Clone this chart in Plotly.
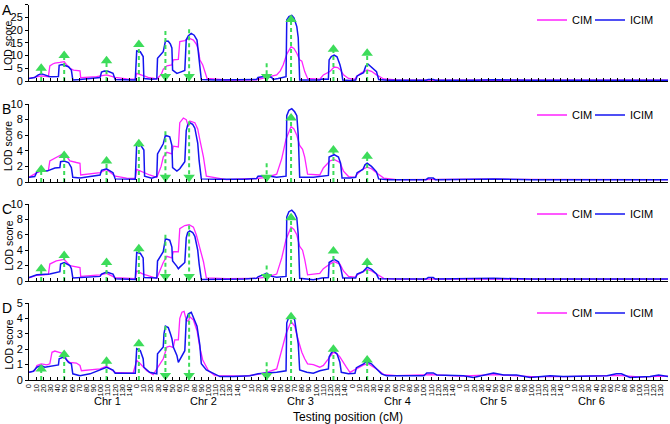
import plotly.graph_objects as go
from plotly.subplots import make_subplots

FONT = "Liberation Sans, Arial, sans-serif"
CIM_COLOR = "#ff22ff"
ICIM_COLOR = "#1414f0"
QTL_COLOR = "#3cdc5a"

# concatenated genome axis: chromosome k starts at k*150 cM
chroms = ["Chr 1", "Chr 2", "Chr 3", "Chr 4", "Chr 5", "Chr 6"]
chrom_step = 150
chrom_ticks = list(range(0, 150, 10))

# QTL marks (position on the concatenated axis, arrow direction)
qtl_pos = [17, 49, 108, 153, 190, 223, 331, 365, 424, 471]
qtl_dir = ["up", "up", "up", "up", "down", "down", "down", "up", "up", "up"]

# LOD profiles as (position, LOD) pairs
a_cim = [(0, 1.0), (8, 1.4), (17, 2.0), (27, 1.7), (29, 5.9), (33, 6.7), (36, 7.0), (43, 7.3), (49, 7.6),
         (52, 6.5), (57, 5.0), (62, 4.3), (71, 4.0), (72, 1.3), (94, 1.7), (108, 2.4), (120, 1.4), (136, 0.8),
         (148, 0.7), (150, 3.0), (159, 2.0), (166, 1.4), (178, 0.8), (184, 2.5), (187, 4.6), (192, 6.0),
         (199, 6.3), (201, 8.3), (208, 8.5), (210, 15.5), (217, 15.9), (223, 16.8), (229, 16.1), (233, 14.5),
         (236, 12.2), (238, 8.3), (242, 6.3), (245, 3.7), (248, 1.0), (275, 0.4), (317, 0.5), (331, 1.4),
         (345, 2.4), (350, 4.0), (354, 6.3), (359, 10.5), (365, 13.5), (369, 12.8), (373, 10.9), (377, 8.3),
         (380, 7.8), (384, 3.7), (388, 1.0), (405, 0.7), (410, 2.4), (419, 3.7), (425, 5.5), (430, 5.3),
         (434, 4.3), (438, 2.4), (445, 1.0), (454, 0.7), (456, 1.7), (463, 3.2), (471, 4.3), (477, 3.8),
         (484, 2.4), (494, 0.8), (512, 0.4), (600, 0.3), (700, 0.3), (890, 0.3)]
a_icim = [(0, 1.0), (8, 1.4), (13, 2.4), (17, 2.8), (21, 2.5), (25, 2.0), (29, 1.7), (41, 1.8), (42, 6.2),
          (46, 6.5), (49, 6.3), (55, 5.6), (59, 4.3), (61, 0.4), (71, 0.6), (99, 1.4), (101, 3.5), (105, 3.9),
          (110, 3.8), (117, 3.0), (120, 0.6), (148, 0.4), (150, 11.8), (155, 11.5), (159, 9.6), (160, 1.0),
          (171, 0.7), (178, 0.9), (179, 8.9), (184, 10.8), (187, 11.5), (190, 15.7), (194, 15.6), (197, 14.5),
          (199, 13.0), (200, 4.3), (206, 3.0), (210, 3.4), (217, 4.1), (219, 16.2), (222, 17.8), (226, 18.7),
          (230, 18.0), (234, 16.1), (237, 8.0), (240, 0.6), (260, 0.4), (300, 0.4), (317, 0.6), (319, 1.4),
          (331, 2.0), (338, 1.4), (340, 0.6), (347, 1.0), (358, 1.7), (359, 24.0), (362, 25.3), (366, 25.8),
          (369, 24.8), (373, 21.4), (375, 17.0), (377, 0.4), (405, 0.4), (408, 0.8), (417, 0.7), (418, 8.3),
          (421, 9.6), (425, 10.2), (429, 9.5), (433, 6.5), (435, 4.3), (437, 0.4), (447, 0.2), (455, 0.4),
          (457, 2.0), (466, 3.3), (469, 5.8), (472, 6.7), (477, 5.6), (484, 3.7), (487, 0.6), (500, 0.3),
          (553, 0.3), (556, 0.6), (563, 0.6), (566, 0.3), (620, 0.3), (647, 0.5), (700, 0.3), (820, 0.3),
          (890, 0.3)]

b_cim = [(0, 0.6), (11, 1.2), (17, 1.4), (27, 1.5), (29, 2.7), (36, 3.0), (43, 3.4), (49, 3.7), (53, 3.2),
         (57, 2.7), (66, 2.5), (71, 2.4), (72, 0.9), (99, 1.2), (108, 1.6), (120, 0.75), (136, 0.5), (148, 0.45),
         (150, 1.6), (159, 1.2), (168, 0.9), (178, 0.6), (184, 2.0), (187, 3.2), (192, 3.8), (199, 3.6),
         (201, 4.6), (208, 4.5), (210, 7.6), (215, 8.2), (219, 8.0), (222, 7.1), (224, 7.8), (231, 7.6),
         (235, 6.8), (238, 5.4), (243, 3.2), (247, 0.75), (275, 0.3), (317, 0.45), (331, 0.6), (345, 1.0),
         (352, 3.0), (358, 5.5), (365, 7.1), (369, 6.8), (373, 6.0), (377, 4.7), (381, 4.2), (384, 3.2),
         (388, 1.0), (405, 0.9), (410, 1.8), (419, 2.7), (425, 2.9), (433, 2.5), (438, 1.4), (445, 0.7),
         (454, 0.6), (457, 1.0), (464, 1.6), (471, 1.9), (477, 1.7), (484, 1.2), (494, 0.5), (512, 0.3),
         (650, 0.35), (890, 0.3)]
b_icim = [(0, 0.6), (8, 0.7), (11, 1.3), (17, 1.4), (25, 1.4), (36, 1.8), (43, 1.85), (44, 2.6), (49, 2.7),
          (55, 2.5), (59, 1.85), (61, 0.6), (71, 0.5), (99, 0.9), (101, 1.5), (108, 1.7), (117, 1.2), (120, 0.4),
          (148, 0.35), (150, 4.9), (155, 4.8), (160, 4.1), (161, 0.75), (171, 0.5), (178, 0.7), (179, 3.6),
          (187, 4.9), (190, 6.0), (196, 5.8), (199, 4.7), (200, 1.85), (206, 1.4), (210, 1.7), (217, 2.6),
          (219, 6.6), (221, 7.3), (224, 7.6), (228, 7.4), (231, 6.9), (235, 5.0), (237, 2.7), (240, 0.4),
          (260, 0.35), (300, 0.35), (317, 0.45), (319, 0.75), (331, 0.8), (345, 0.6), (358, 0.75), (359, 8.5),
          (362, 9.2), (366, 9.4), (370, 9.0), (373, 8.5), (375, 6.0), (377, 0.6), (396, 0.6), (406, 0.75),
          (417, 0.85), (418, 3.2), (425, 3.5), (431, 3.2), (434, 2.4), (436, 0.5), (447, 0.5), (455, 0.6),
          (457, 1.2), (465, 1.6), (468, 2.2), (471, 2.4), (477, 2.0), (484, 1.3), (487, 0.4), (500, 0.3),
          (553, 0.3), (556, 0.5), (563, 0.5), (566, 0.3), (647, 0.4), (700, 0.3), (820, 0.35), (890, 0.3)]

c_cim = [(0, 0.4), (11, 0.75), (27, 0.85), (29, 2.2), (38, 2.6), (49, 2.8), (53, 2.4), (57, 2.0), (71, 1.75),
         (72, 0.6), (99, 0.8), (108, 1.0), (120, 0.45), (148, 0.3), (150, 1.3), (159, 0.9), (178, 0.35),
         (184, 1.6), (187, 2.4), (192, 3.2), (199, 3.0), (201, 3.8), (208, 3.8), (210, 6.8), (217, 7.2),
         (223, 7.3), (229, 7.0), (233, 6.0), (236, 5.0), (238, 4.0), (243, 2.5), (247, 0.4), (275, 0.3),
         (317, 0.35), (331, 0.5), (345, 0.9), (352, 3.0), (358, 5.4), (365, 7.0), (369, 6.7), (373, 6.0),
         (377, 4.5), (381, 4.0), (384, 2.8), (388, 0.8), (405, 1.0), (410, 1.6), (419, 2.2), (425, 2.5),
         (433, 2.2), (438, 1.3), (445, 0.6), (454, 0.5), (457, 0.8), (464, 1.2), (471, 1.5), (477, 1.3),
         (484, 0.9), (494, 0.35), (512, 0.25), (890, 0.25)]
c_icim = [(0, 0.45), (11, 0.8), (29, 0.9), (43, 1.2), (44, 2.2), (49, 2.4), (57, 2.0), (59, 1.6), (61, 0.4),
          (99, 0.6), (101, 0.9), (108, 1.15), (117, 0.9), (120, 0.3), (148, 0.2), (150, 3.7), (155, 3.6),
          (159, 3.0), (160, 0.45), (178, 0.4), (179, 2.6), (187, 3.8), (190, 5.5), (196, 5.3), (199, 4.4),
          (200, 2.6), (206, 1.9), (208, 1.6), (210, 1.8), (217, 2.4), (219, 5.6), (221, 6.3), (224, 6.5),
          (228, 6.3), (231, 5.8), (235, 4.0), (237, 2.2), (240, 0.2), (300, 0.25), (317, 0.35), (319, 0.55),
          (331, 1.0), (338, 0.6), (345, 0.5), (358, 0.6), (359, 8.3), (362, 9.0), (366, 9.2), (370, 8.8),
          (373, 8.2), (375, 6.0), (377, 0.35), (396, 0.15), (408, 0.4), (417, 0.45), (418, 2.4), (425, 2.8),
          (431, 2.5), (434, 1.8), (437, 0.4), (455, 0.4), (457, 0.9), (465, 1.2), (471, 1.8), (477, 1.5),
          (484, 0.9), (487, 0.3), (512, 0.25), (553, 0.25), (556, 0.45), (563, 0.45), (566, 0.25), (647, 0.35),
          (700, 0.25), (890, 0.25)]

d_cim = [(0, 0.5), (8, 0.6), (11, 0.94), (17, 1.05), (25, 0.98), (29, 1.05), (32, 1.8), (36, 1.88), (42, 1.8),
         (49, 1.7), (53, 1.27), (57, 1.15), (66, 1.1), (71, 0.94), (73, 0.6), (99, 0.72), (108, 0.9), (120, 0.5),
         (145, 0.44), (150, 1.27), (155, 1.05), (164, 0.6), (173, 0.35), (180, 0.83), (187, 1.38), (192, 2.14),
         (196, 2.2), (201, 2.1), (203, 2.6), (208, 2.6), (210, 4.0), (213, 4.4), (216, 4.45), (219, 3.9),
         (222, 3.8), (224, 4.1), (229, 3.9), (234, 3.2), (238, 2.1), (242, 1.3), (245, 1.0), (250, 0.6),
         (259, 0.28), (300, 0.25), (317, 0.35), (331, 0.5), (345, 0.72), (352, 1.9), (358, 3.0), (365, 3.8),
         (370, 3.5), (375, 2.6), (380, 1.8), (384, 1.38), (388, 1.05), (396, 1.0), (405, 0.83), (410, 0.95),
         (417, 1.4), (424, 1.8), (429, 1.7), (433, 1.5), (442, 0.83), (447, 0.5), (456, 0.72), (466, 0.98),
         (473, 1.05), (484, 0.72), (494, 0.35), (512, 0.28), (560, 0.35), (600, 0.25), (650, 0.35), (700, 0.22),
         (750, 0.22), (820, 0.3), (850, 0.2), (890, 0.25)]
d_icim = [(0, 0.5), (6, 0.57), (11, 0.83), (17, 0.94), (22, 0.83), (29, 0.9), (36, 0.94), (41, 0.98), (42, 1.38),
          (49, 1.5), (55, 1.15), (59, 1.05), (61, 0.4), (71, 0.28), (85, 0.4), (99, 0.65), (108, 0.83),
          (117, 0.65), (120, 0.44), (148, 0.44), (150, 2.03), (155, 1.92), (159, 1.38), (160, 0.83), (168, 0.5),
          (178, 0.4), (179, 1.7), (187, 2.14), (188, 3.0), (190, 3.5), (194, 3.4), (197, 3.0), (199, 2.7),
          (201, 2.14), (206, 1.6), (208, 1.15), (213, 1.6), (217, 1.9), (219, 3.9), (222, 4.3), (226, 4.4),
          (231, 3.9), (234, 3.5), (238, 2.25), (240, 1.05), (247, 0.65), (257, 0.4), (266, 0.22), (285, 0.22),
          (308, 0.28), (319, 0.4), (331, 0.44), (345, 0.5), (358, 0.6), (359, 3.7), (362, 4.1), (366, 4.2),
          (370, 3.9), (375, 2.35), (377, 0.65), (387, 0.5), (396, 0.44), (405, 0.6), (417, 0.72), (418, 1.5),
          (421, 1.75), (424, 1.9), (429, 1.7), (433, 1.15), (435, 0.5), (445, 0.4), (454, 0.44), (456, 0.8),
          (466, 1.05), (470, 1.2), (477, 1.05), (484, 0.72), (491, 0.4), (498, 0.28), (550, 0.28), (554, 0.46),
          (563, 0.46), (568, 0.33), (605, 0.28), (619, 0.17), (637, 0.33), (647, 0.46), (661, 0.33), (679, 0.33),
          (698, 0.17), (726, 0.28), (744, 0.22), (791, 0.28), (805, 0.28), (818, 0.4), (825, 0.4), (837, 0.17),
          (865, 0.22), (877, 0.33), (890, 0.22)]

# QTL arrow heights per panel (top of up-arrow / start of down-arrow)
qtl_a = [5.0, 10.0, 8.0, 14.4, 19.7, 20.3, 7.0, 24.2, 12.5, 10.9]
qtl_b = [1.6, 3.4, 2.7, 4.9, 6.5, 7.8, 2.4, 8.2, 4.1, 3.3]
qtl_c = [1.6, 3.3, 2.4, 4.2, 6.0, 7.2, 2.0, 8.2, 3.9, 2.4]
qtl_d = [0.72, 1.66, 1.22, 2.36, 3.5, 4.3, 1.15, 4.1, 2.0, 1.3]

panels = [
    dict(tag="A", cim=a_cim, icim=a_icim, qtl=qtl_a, ymax=30, dtick=5),
    dict(tag="B", cim=b_cim, icim=b_icim, qtl=qtl_b, ymax=10, dtick=2),
    dict(tag="C", cim=c_cim, icim=c_icim, qtl=qtl_c, ymax=10, dtick=2),
    dict(tag="D", cim=d_cim, icim=d_icim, qtl=qtl_d, ymax=5, dtick=1),
]

W, H = 670, 424
ML, MR, MT, MB = 29, 2, 4, 44
PW, PH = W - ML - MR, H - MT - MB
# panel extents in pixels (top, bottom) and legend row centre
panel_px = [(4.7, 81), (104, 182), (204, 281), (303, 380)]
legend_px = [20, 115, 214, 313]


def py(px):
    return (H - MB - px) / PH


def pxx(px):
    return (px - ML) / PW


def label(text, x, y, size, angle=0):
    fig.add_annotation(text=text, xref="paper", yref="paper", x=pxx(x), y=py(y), xanchor="center",
                       yanchor="middle", textangle=angle, showarrow=False,
                       font=dict(size=size, color="black"))


tickvals = [k * chrom_step + t for k in range(len(chroms)) for t in chrom_ticks]
ticktext = [str(t) for k in range(len(chroms)) for t in chrom_ticks]

fig = make_subplots(rows=4, cols=1)

for i, p in enumerate(panels):
    row = i + 1
    leg = "legend" if i == 0 else "legend%d" % (i + 1)
    fig.add_trace(go.Scatter(
        x=[s[0] for s in p["cim"]], y=[s[1] for s in p["cim"]], mode="lines", name="CIM",
        line=dict(color=CIM_COLOR, width=1.3), legend=leg, legendwidth=13,
    ), row=row, col=1)
    fig.add_trace(go.Scatter(
        x=[s[0] for s in p["icim"]], y=[s[1] for s in p["icim"]], mode="lines", name="ICIM",
        line=dict(color=ICIM_COLOR, width=1.5), legend=leg,
    ), row=row, col=1)

    down_y = p["ymax"] * 0.06
    for pos, d, h in zip(qtl_pos, qtl_dir, p["qtl"]):
        ys = [0, h] if d == "up" else [h, 0]
        fig.add_trace(go.Scatter(
            x=[pos, pos], y=ys, mode="lines", showlegend=False, hoverinfo="skip",
            line=dict(color=QTL_COLOR, width=2, dash="4px,3px"),
        ), row=row, col=1)
    fig.add_trace(go.Scatter(
        x=[q for q, d in zip(qtl_pos, qtl_dir) if d == "up"],
        y=[h for h, d in zip(p["qtl"], qtl_dir) if d == "up"],
        mode="markers", showlegend=False, hoverinfo="skip",
        marker=dict(symbol="triangle-up", size=10, color=QTL_COLOR),
    ), row=row, col=1)
    fig.add_trace(go.Scatter(
        x=[q for q, d in zip(qtl_pos, qtl_dir) if d == "down"],
        y=[down_y for d in qtl_dir if d == "down"],
        mode="markers", showlegend=False, hoverinfo="skip",
        marker=dict(symbol="triangle-down", size=10, color=QTL_COLOR),
    ), row=row, col=1)

    top, bottom = panel_px[i]
    sfx = "" if row == 1 else str(row)
    fig.layout["yaxis" + sfx].update(
        domain=[max(py(bottom), 0), min(py(top), 1)], range=[0, p["ymax"]], dtick=p["dtick"],
        showline=True, linecolor="black", linewidth=1, ticks="outside", ticklen=3, tickcolor="black",
        showgrid=False, zeroline=False, tickfont=dict(size=11, color="black"), automargin=False,
    )
    fig.layout["xaxis" + sfx].update(
        domain=[0, 1], range=[0, 890], tickmode="array", tickvals=tickvals, ticktext=ticktext,
        showticklabels=(row == 4), tickangle=-90, tickfont=dict(size=7.5, color="black"),
        showline=True, linecolor="black", linewidth=1, ticks="inside", ticklen=3, tickcolor="black",
        showgrid=False, zeroline=False, automargin=False,
    )
    label(p["tag"], 6.5, top + 5, 14)
    label("LOD score", 8, (top + bottom) / 2 + 3, 10.5, angle=-90)
    fig.layout[leg] = dict(
        orientation="h", x=pxx(532), y=py(legend_px[i]), xanchor="left", yanchor="middle",
        font=dict(size=11, color="black"), bgcolor="rgba(0,0,0,0)", itemwidth=30,
    )

chrom_label_px = [107, 203, 300, 397, 493, 591]
for name, px in zip(chroms, chrom_label_px):
    label(name, px, 401, 11)
label("Testing position (cM)", 348, 417, 12)

fig.update_layout(
    width=W, height=H, margin=dict(l=ML, r=MR, t=MT, b=MB, autoexpand=False),
    paper_bgcolor="white", plot_bgcolor="white",
    font=dict(family=FONT, color="black"),
)

# drop the browser's default page margin so the figure sits at the window origin
fig.write_html("out.html", config={"displayModeBar": False},
               post_script="document.body.style.margin = '0px';")
